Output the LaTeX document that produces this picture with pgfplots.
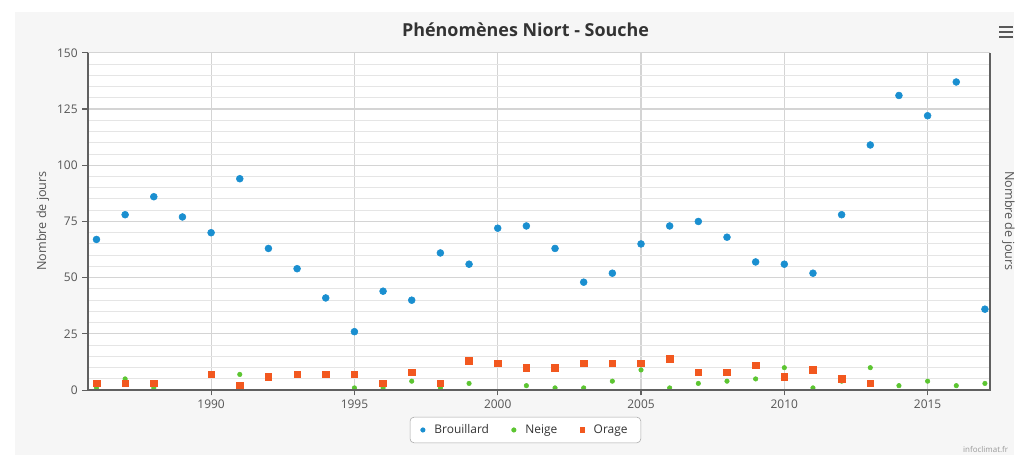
\documentclass[border=0pt]{standalone}
\usepackage{fontspec}
\setmainfont{Open Sans}
\usepackage{pgfplots}
\pgfplotsset{compat=1.18}
\definecolor{cBrou}{HTML}{1A8FD0}
\definecolor{cNeige}{HTML}{5CC531}
\definecolor{cOrage}{HTML}{F2581F}
\definecolor{axisc}{HTML}{606060}
\definecolor{txt}{HTML}{333333}
\definecolor{lbl}{HTML}{555555}
\definecolor{bgc}{HTML}{F6F6F6}
\begin{document}
\begin{tikzpicture}
\begin{scope}[x=0.75pt,y=0.75pt]
\useasboundingbox (0,0) rectangle (1019,457);
\fill[white] (0,0) rectangle (1019,457);
\fill[bgc] (15,0) rectangle (1019,445);
\fill[white] (88,65) rectangle (995,404);
\end{scope}
\begin{axis}[
  at={(66pt,48.75pt)}, anchor=south west,
  scale only axis, width=680.25pt, height=254.25pt,
  xmin=1985.69, xmax=2017.19, ymin=0, ymax=150,
  xtick={1990,1995,2000,2005,2010,2015},
  ytick={0,25,50,75,100,125,150},
  minor y tick num=4,
  x tick label style={/pgf/number format/1000 sep={}},
  /pgf/number format/assume math mode=true,
  tick label style={font=\fontsize{9}{10}\selectfont, text=lbl},
  xmajorgrids, ymajorgrids, yminorgrids,
  major grid style={draw=black!17, line width=0.8pt},
  minor grid style={draw=black!10, line width=0.7pt},
  axis line style={draw=none},
  tick align=outside, tick pos=left,
  major tick length=4pt, minor tick length=0pt,
  major tick style={draw=axisc, line width=0.8pt},
  legend style={at={(0.485,-0.118)}, anchor=center, draw=black!35, rounded corners=3pt,
    fill=white, font=\fontsize{9}{10}\selectfont\color{txt}, legend columns=3,
    /tikz/every odd column/.append style={column sep=5pt},
    /tikz/every even column/.append style={column sep=15pt}, inner xsep=8pt, inner ysep=3.5pt},
  legend image post style={mark size=1.7pt},
  legend cell align=left,
  clip=false,
]
\addplot[only marks, mark=*, mark size=2.6pt, mark options={draw=cBrou, fill=cBrou}] coordinates {
(1986,67)(1987,78)(1988,86)(1989,77)(1990,70)(1991,94)(1992,63)(1993,54)(1994,41)(1995,26)
(1996,44)(1997,40)(1998,61)(1999,56)(2000,72)(2001,73)(2002,63)(2003,48)(2004,52)(2005,65)
(2006,73)(2007,75)(2008,68)(2009,57)(2010,56)(2011,52)(2012,78)(2013,109)(2014,131)(2015,122)
(2016,137)(2017,36)};
\addlegendentry{Brouillard}
\addplot[only marks, mark=*, mark size=1.7pt, mark options={draw=cNeige, fill=cNeige}] coordinates {
(1986,1)(1987,5)(1988,1)(1991,7)(1995,1)(1996,1)(1997,4)(1998,1)(1999,3)(2001,2)(2002,1)
(2003,1)(2004,4)(2005,9)(2006,1)(2007,3)(2008,4)(2009,5)(2010,10)(2011,1)(2012,4)(2013,10)
(2014,2)(2015,4)(2016,2)(2017,3)};
\addlegendentry{Neige}
\addplot[only marks, mark=square*, mark size=2.5pt, mark options={draw=cOrage, fill=cOrage}] coordinates {
(1986,3)(1987,3)(1988,3)(1990,7)(1991,2)(1992,6)(1993,7)(1994,7)(1995,7)(1996,3)(1997,8)
(1998,3)(1999,13)(2000,12)(2001,10)(2002,10)(2003,12)(2004,12)(2005,12)(2006,14)(2007,8)
(2008,8)(2009,11)(2010,6)(2011,9)(2012,5)(2013,3)};
\addlegendentry{Orage}
\end{axis}
\begin{scope}[x=0.75pt,y=0.75pt]
\draw[axisc, line width=1.5pt] (88,404) -- (88,65) -- (995,65) -- (995,404);
\node[font=\bfseries\fontsize{13.5}{15}\selectfont, text=txt] at (528,427) {Phénomènes Niort - Souche};
\node[font=\fontsize{9.5}{11}\selectfont, text=lbl, rotate=90] at (43,235) {Nombre de jours};
\node[font=\fontsize{9.5}{11}\selectfont, text=lbl, rotate=-90] at (1013,235) {Nombre de jours};
\foreach \yy in {420,425,430} \draw[black!65, line width=1.6pt] (1004,\yy) -- (1018,\yy);
\node[font=\fontsize{6}{7}\selectfont, text=black!40, anchor=west] at (963,5) {infoclimat.fr};
\end{scope}
\end{tikzpicture}
\end{document}
